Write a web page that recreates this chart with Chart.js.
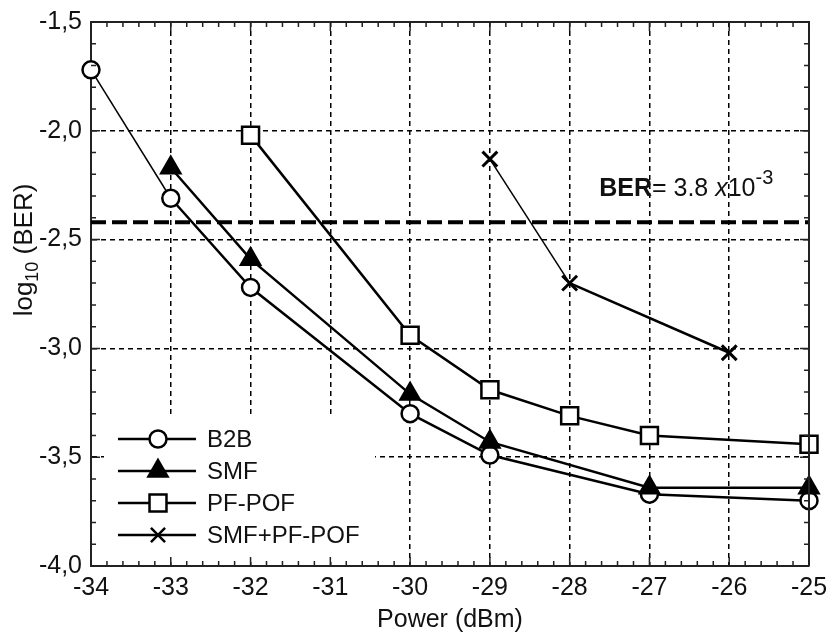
<!DOCTYPE html>
<html>
<head>
<meta charset="utf-8">
<script src="https://cdn.jsdelivr.net/npm/chart.js@4/dist/chart.umd.min.js"></script>
<style>
  html, body { margin: 0; padding: 0; background: #fff; }
  #wrap { width: 827px; height: 635px; position: relative; }
</style>
</head>
<body>
<div id="wrap"><canvas id="c" width="827" height="635"></canvas></div>
<script>
// ---- Data ----
const powerB2B    = [-34, -33, -32, -30, -29, -27, -25];
const berB2B      = [-1.72, -2.31, -2.72, -3.30, -3.49, -3.67, -3.70];
const powerSMF    = [-33, -32, -30, -29, -27, -25];
const berSMF      = [-2.17, -2.59, -3.21, -3.43, -3.64, -3.64];
const powerPOF    = [-32, -30, -29, -28, -27, -25];
const berPOF      = [-2.02, -2.94, -3.19, -3.31, -3.40, -3.44];
const powerSMFPOF = [-29, -28, -26];
const berSMFPOF   = [-2.13, -2.70, -3.02];
const berLimit    = -2.42;          // log10(3.8e-3)
const xRange      = [-34, -25];
const yRange      = [-4.0, -1.5];
const seriesNames = ['B2B', 'SMF', 'PF-POF', 'SMF+PF-POF'];

const FONT = '"Liberation Sans", Arial, sans-serif';
const pts = (xs, ys) => xs.map((x, i) => ({ x: x, y: ys[i] }));

// white box behind the legend (hides grid there)
const legendBackground = {
  id: 'legendBackground',
  beforeDatasetsDraw(chart) {
    const ctx = chart.ctx, a = chart.chartArea;
    ctx.save();
    ctx.fillStyle = '#fff';
    ctx.fillRect(a.left + 13, 418, 375 - (a.left + 13), a.bottom - 6 - 418);
    ctx.restore();
  }
};

function drawMarker(ctx, style, x, y) {
  ctx.save();
  ctx.lineWidth = 2.5;
  ctx.strokeStyle = '#000';
  ctx.beginPath();
  if (style === 'circle') {
    ctx.fillStyle = '#fff';
    ctx.arc(x, y, 8.5, 0, Math.PI * 2);
    ctx.fill(); ctx.stroke();
  } else if (style === 'triangle') {
    const r = 11;
    ctx.fillStyle = '#000';
    for (let k = 0; k < 3; k++) {
      const a = k * 2 * Math.PI / 3;
      const px = x + Math.sin(a) * r, py = y - Math.cos(a) * r;
      k ? ctx.lineTo(px, py) : ctx.moveTo(px, py);
    }
    ctx.closePath(); ctx.fill(); ctx.stroke();
  } else if (style === 'rect') {
    const s = 12 * Math.SQRT1_2;
    ctx.fillStyle = '#fff';
    ctx.rect(x - s, y - s, 2 * s, 2 * s);
    ctx.fill(); ctx.stroke();
  } else {
    const d = 10 * Math.SQRT1_2;
    ctx.moveTo(x - d, y - d); ctx.lineTo(x + d, y + d);
    ctx.moveTo(x + d, y - d); ctx.lineTo(x - d, y + d);
    ctx.stroke();
  }
  ctx.restore();
}

const decorations = {
  id: 'decorations',
  afterDraw(chart) {
    const ctx = chart.ctx, a = chart.chartArea;
    const xs = chart.scales.x, ys = chart.scales.y;
    ctx.save();
    // frame top/right
    ctx.strokeStyle = '#222';
    ctx.lineWidth = 2;
    ctx.beginPath();
    ctx.moveTo(a.left, a.top); ctx.lineTo(a.right, a.top); ctx.lineTo(a.right, a.bottom);
    ctx.stroke();
    // inward ticks
    ctx.lineWidth = 1.5;
    ctx.beginPath();
    for (let i = 0; i <= 45; i++) {
      const v = xRange[0] + i * 0.2;
      const px = xs.getPixelForValue(v);
      const len = (i % 5 === 0) ? 9 : 5;
      ctx.moveTo(px, a.bottom); ctx.lineTo(px, a.bottom - len);
      ctx.moveTo(px, a.top); ctx.lineTo(px, a.top + len);
    }
    for (let i = 0; i <= 25; i++) {
      const v = yRange[0] + i * 0.1;
      const py = ys.getPixelForValue(v);
      const len = (i % 5 === 0) ? 9 : 5;
      ctx.moveTo(a.left, py); ctx.lineTo(a.left + len, py);
      ctx.moveTo(a.right, py); ctx.lineTo(a.right - len, py);
    }
    ctx.stroke();

    // y axis title with subscript
    ctx.fillStyle = '#111';
    ctx.translate(25, 250);
    ctx.rotate(-Math.PI / 2);
    ctx.textBaseline = 'middle';
    const big = '26px ' + FONT, small = '18px ' + FONT;
    ctx.font = big; const w1 = ctx.measureText('log').width;
    ctx.font = small; const w2 = ctx.measureText('10').width;
    ctx.font = big; const w3 = ctx.measureText(' (BER)').width;
    let x0 = -(w1 + w2 + w3) / 2;
    ctx.textAlign = 'left';
    ctx.font = big; ctx.fillText('log', x0, 0); x0 += w1;
    ctx.font = small; ctx.fillText('10', x0, 8); x0 += w2;
    ctx.font = big; ctx.fillText(' (BER)', x0, 0);
    ctx.setTransform(1, 0, 0, 1, 0, 0);

    // BER annotation
    let bx = xs.getPixelForValue(-27.63);
    const by = ys.getPixelForValue(-2.30);
    ctx.textBaseline = 'alphabetic';
    ctx.textAlign = 'left';
    ctx.fillStyle = '#111';
    const parts = [
      ['bold 25px ' + FONT, 'BER', 0],
      ['25px ' + FONT, '= 3.8 ', 0],
      ['italic 25px ' + FONT, 'x', 0],
      ['25px ' + FONT, '10', 0],
      ['20px ' + FONT, '-3', -12]
    ];
    for (const [f, t, dy] of parts) {
      ctx.font = f;
      ctx.fillText(t, bx, by + dy);
      bx += ctx.measureText(t).width;
    }

    // legend
    const styles = ['circle', 'triangle', 'rect', 'crossRot'];
    const rowsY = [439, 471, 503, 535];
    ctx.font = '24px ' + FONT;
    ctx.textBaseline = 'middle';
    for (let i = 0; i < 4; i++) {
      const y = rowsY[i];
      ctx.strokeStyle = '#000';
      ctx.lineWidth = 2.5;
      ctx.beginPath(); ctx.moveTo(118, y); ctx.lineTo(196, y); ctx.stroke();
      drawMarker(ctx, styles[i], 158, y);
      ctx.fillStyle = '#111';
      ctx.fillText(seriesNames[i], 207, y + 1);
    }
    ctx.restore();
  }
};

const common = {
  showLine: true,
  clip: false,
  borderColor: '#000',
  pointBorderColor: '#000',
  pointBorderWidth: 2.5,
  borderWidth: 2.5,
  tension: 0,
  fill: false
};

new Chart(document.getElementById('c'), {
  type: 'scatter',
  data: {
    datasets: [
      Object.assign({}, common, {
        label: seriesNames[0], data: pts(powerB2B, berB2B), order: 2,
        pointStyle: 'circle', pointRadius: 8.5, pointBackgroundColor: '#fff',
        segment: { borderWidth: c => c.p0DataIndex === 0 ? 1.5 : 2.5 }
      }),
      Object.assign({}, common, {
        label: seriesNames[1], data: pts(powerSMF, berSMF), order: 1,
        pointStyle: 'triangle', pointRadius: 11, pointBackgroundColor: '#000'
      }),
      Object.assign({}, common, {
        label: seriesNames[2], data: pts(powerPOF, berPOF), order: 3,
        pointStyle: 'rect', pointRadius: 12, pointBackgroundColor: '#fff'
      }),
      Object.assign({}, common, {
        label: seriesNames[3], data: pts(powerSMFPOF, berSMFPOF), order: 4,
        pointStyle: 'crossRot', pointRadius: 10.5, pointBorderWidth: 3,
        segment: { borderWidth: c => c.p0DataIndex === 0 ? 1.5 : 2.5 }
      }),
      {
        label: 'BER limit', data: pts(xRange, [berLimit, berLimit]), order: 5,
        showLine: true, borderColor: '#000', borderWidth: 4, borderDash: [15, 6],
        pointRadius: 0, fill: false
      }
    ]
  },
  options: {
    responsive: false,
    animation: false,
    events: [],
    layout: { padding: { top: 22, right: 18, left: 0, bottom: 0 } },
    plugins: { legend: { display: false }, tooltip: { enabled: false }, title: { display: false } },
    scales: {
      x: {
        type: 'linear', min: xRange[0], max: xRange[1],
        afterFit: s => { s.height = 69; s.paddingLeft = 0; s.paddingRight = 0; },
        ticks: { stepSize: 1, color: '#111', font: { family: FONT, size: 25 }, padding: 7, maxRotation: 0 },
        grid: { color: '#000', lineWidth: 1.5, drawTicks: false },
        border: { display: true, color: '#222', width: 2, dash: [5, 4] },
        title: { display: true, text: 'Power (dBm)', color: '#111', font: { family: FONT, size: 25 }, padding: { top: 0, bottom: 0 } }
      },
      y: {
        type: 'linear', min: yRange[0], max: yRange[1],
        afterFit: s => { s.width = 91; s.paddingTop = 0; s.paddingBottom = 0; },
        ticks: {
          stepSize: 0.5, color: '#111', font: { family: FONT, size: 25 }, padding: 9,
          callback: v => v.toFixed(1).replace('.', ',')
        },
        grid: { color: '#000', lineWidth: 1.5, drawTicks: false },
        border: { display: true, color: '#222', width: 2, dash: [5, 4] }
      }
    }
  },
  plugins: [legendBackground, decorations]
});
</script>
</body>
</html>
